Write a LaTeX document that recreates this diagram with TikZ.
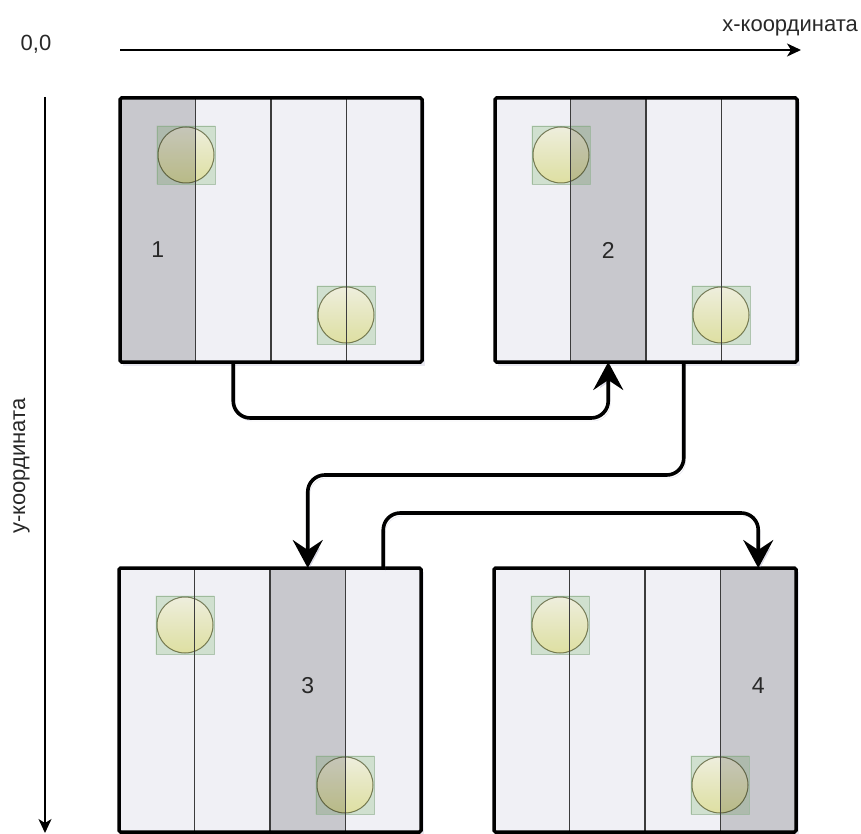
\documentclass[tikz,border=0pt]{standalone}
\usepackage{fontspec}
\setmainfont{Liberation Sans}
\usetikzlibrary{arrows.meta,shadows,calc}

\definecolor{panelbg}{RGB}{240,240,245}
\definecolor{shadecol}{RGB}{200,200,205}
\definecolor{divcol}{RGB}{60,60,60}
\definecolor{slotfill}{RGB}{222,238,216}
\definecolor{slotdraw}{RGB}{160,185,160}
\definecolor{balltop}{RGB}{253,253,230}
\definecolor{ballbot}{RGB}{236,238,168}
\definecolor{balldraw}{RGB}{140,140,112}
\definecolor{textcol}{RGB}{40,40,40}
\definecolor{shadowcol}{RGB}{150,150,185}

% one rack panel: name, left, top, shaded column (0..3), label offset, label
\newcommand{\rackpanel}[6]{%
  \node[panel] (#1) at (#2,#3) {};
  \fill[shadecol] ($(#1.north west)+(#4*75.5,0)$) rectangle ++(75.5,264);
  \node[slot] (#1sa) at ($(#1.north west)+(66,57)$) {};
  \node[slot] (#1sb) at ($(#1.north west)+(226,217)$) {};
  \begin{scope}[blend mode=multiply]
    \fill[slotfill, even odd rule] (#1sa.south west) rectangle (#1sa.north east)
      (#1sa.center) circle[radius=28pt];
    \fill[slotfill, even odd rule] (#1sb.south west) rectangle (#1sb.north east)
      (#1sb.center) circle[radius=28pt];
    \node[ball] (#1ba) at (#1sa) {};
    \node[ball] (#1bb) at (#1sb) {};
  \end{scope}
  \draw[divider] ($(#1.north west)+(75.5,0)$) -- ($(#1.south west)+(75.5,0)$);
  \draw[divider] ($(#1.north west)+(151,0)$) -- ($(#1.south west)+(151,0)$);
  \draw[divider] ($(#1.north west)+(226.5,0)$) -- ($(#1.south west)+(226.5,0)$);
  \draw[border] (#1.north west) rectangle (#1.south east);
  \node[numlbl] (#1l) at ($(#1.north west)+(#4*75.5+37.75,#5)$) {#6};
}

\begin{document}
\begin{tikzpicture}[x=1pt,y=-1pt,
  panel/.style={fill=panelbg, minimum width=302pt, minimum height=264pt,
    inner sep=0pt, outer sep=0pt, anchor=north west,
    drop shadow={shadow xshift=3pt, shadow yshift=-4pt, opacity=0.22, fill=shadowcol}},
  border/.style={draw=black, line width=3.5pt, rounded corners=1.5pt},
  divider/.style={draw=divcol, line width=1.3pt},
  slot/.style={rectangle, minimum size=58pt, inner sep=0pt,
    draw=slotdraw, draw opacity=0.7, line width=0.8pt},
  ball/.style={circle, minimum size=56pt, inner sep=0pt, top color=balltop,
    bottom color=ballbot, draw=balldraw, line width=1pt},
  numlbl/.style={font=\fontsize{23}{27}\selectfont, text=textcol, inner sep=0pt},
  axislbl/.style={font=\fontsize{22}{26}\selectfont, text=textcol, inner sep=0pt},
  axis/.style={line width=1.8pt, -{Stealth[length=14pt, width=13pt, inset=4pt]}},
  link/.style={line width=3.6pt, rounded corners=17pt,
    -{Stealth[length=28pt, width=30pt, inset=10pt]},
    preaction={draw=shadowcol, opacity=0.3,
      transform canvas={shift={(2pt,-3pt)}}}},
]
\useasboundingbox (0,0) rectangle (861,834);

% axes
\node[axislbl, anchor=base] (origin) at (36,51) {0,0};
\node[axislbl, anchor=base east] (xlbl) at (858,32) {x-координата};
\node[axislbl, anchor=base, rotate=90] (ylbl) at (25,466) {y-координата};
\coordinate (xs) at (120,50);
\coordinate (xe) at (801,50);
\coordinate (ys) at (45,97);
\coordinate (ye) at (45,833);
\draw[axis] (xs) -- (xe);
\draw[axis] (ys) -- (ye);

% panels
\rackpanel{p1}{120}{98}{0}{152}{1}
\rackpanel{p2}{495}{98}{1}{152}{2}
\rackpanel{p3}{119}{568}{2}{118}{3}
\rackpanel{p4}{494}{568}{3}{118}{4}

% connectors between panels
\coordinate (a1) at ($(p1.south west)+(113.25,0)$);
\coordinate (a2) at ($(p2.south west)+(113.25,0)$);
\coordinate (b1) at ($(p2.south west)+(188.75,0)$);
\coordinate (b2) at ($(p3.north west)+(188.75,0)$);
\coordinate (c1) at ($(p3.north west)+(264.25,0)$);
\coordinate (c2) at ($(p4.north west)+(264.25,0)$);

\draw[link] (a1) -- (a1 |- 0,418) -- (a2 |- 0,418) -- (a2);
\draw[link] (b1) -- (b1 |- 0,475) -- (b2 |- 0,475) -- (b2);
\draw[link] (c1) -- (c1 |- 0,513) -- (c2 |- 0,513) -- (c2);
\end{tikzpicture}
\end{document}
